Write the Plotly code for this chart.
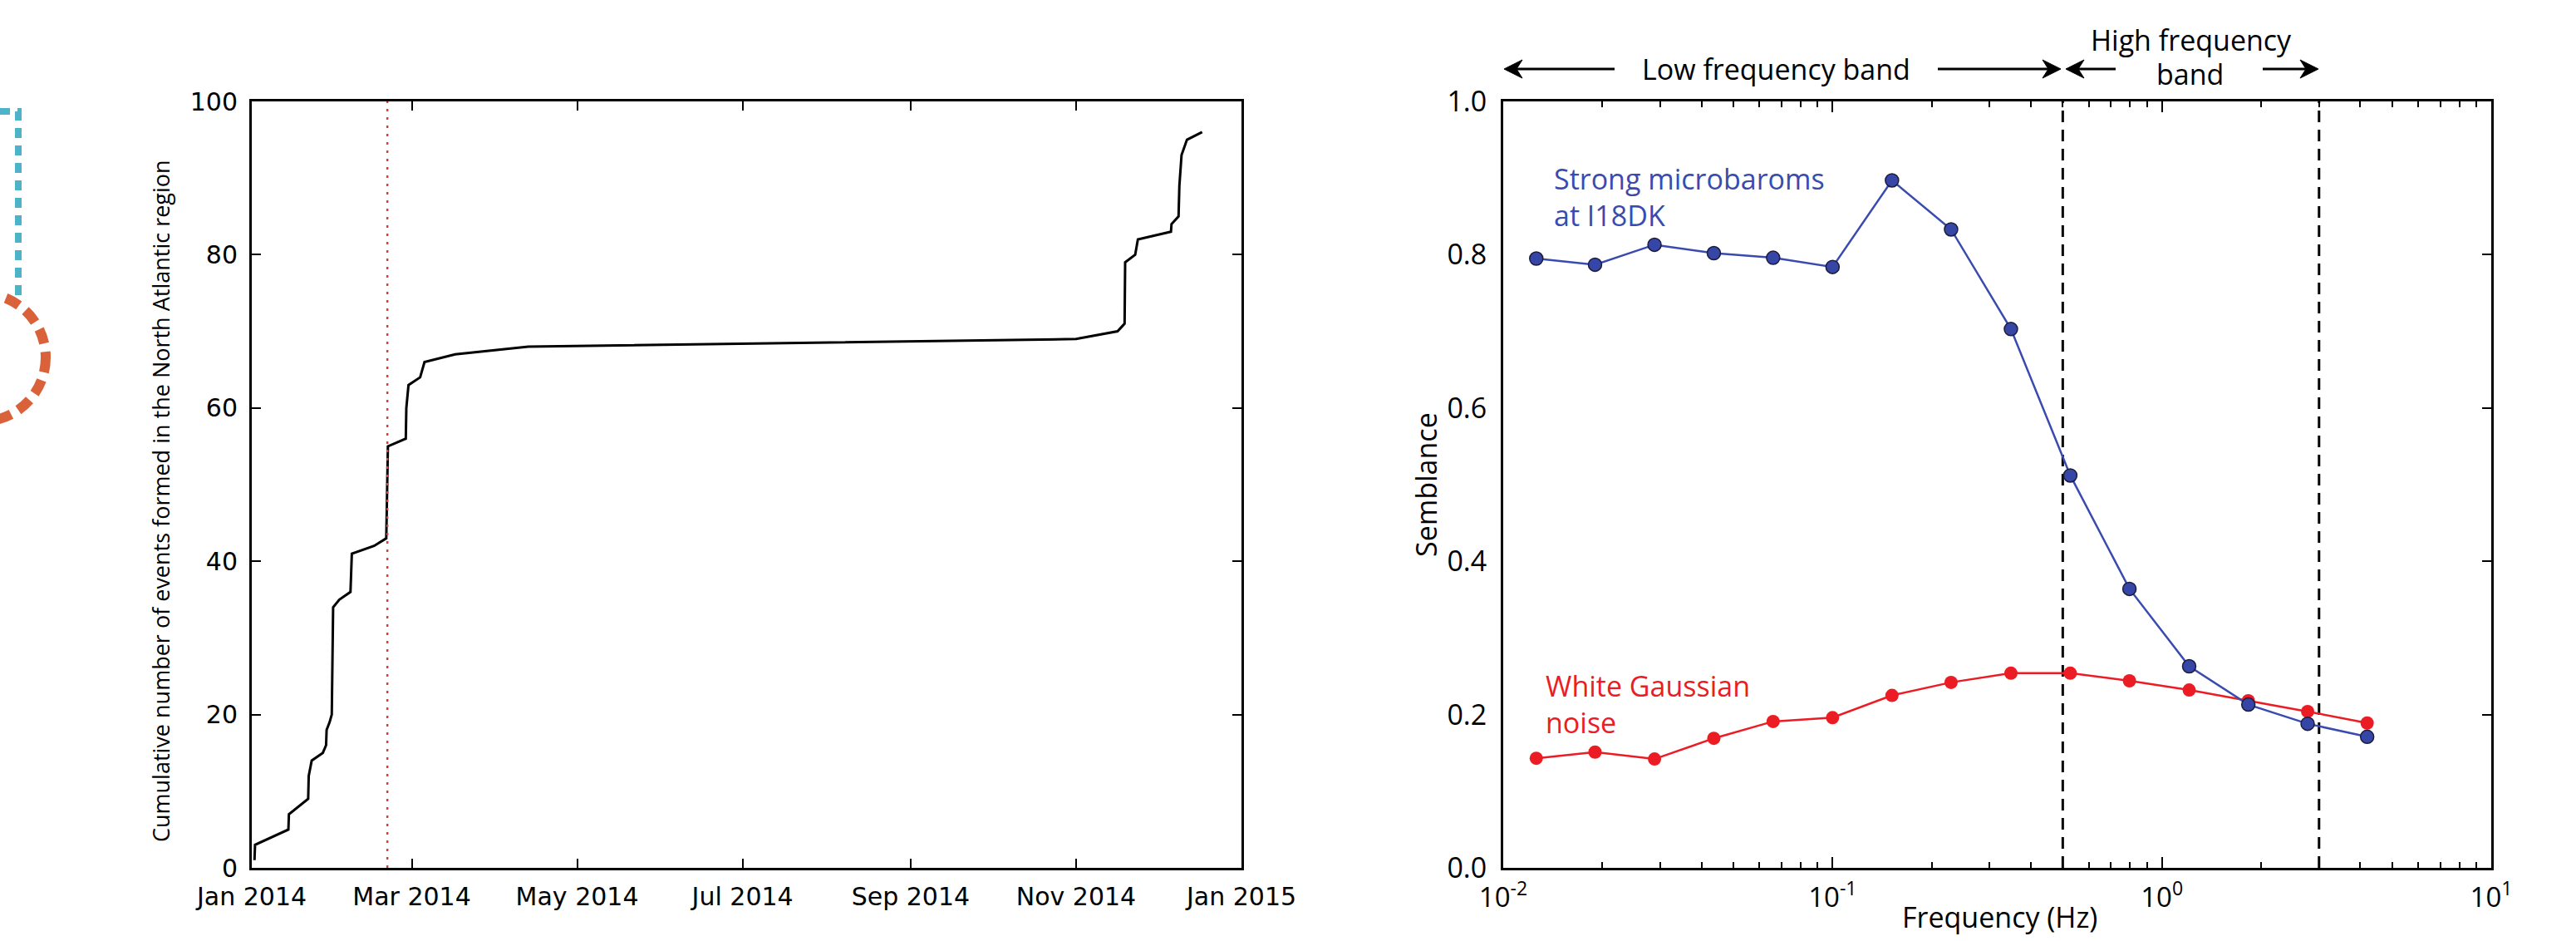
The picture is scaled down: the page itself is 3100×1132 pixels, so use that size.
import pandas as pd
import plotly.graph_objects as go

# ---------------- data ----------------
# left panel: cumulative number of events (days since 2014-01-01, cumulative count)
event_day = [1.0, 1.2, 13.5, 13.7, 20.8, 21.0, 22.1, 26.2, 27.4, 27.6,
             28.7, 29.5, 30.0, 32.3, 36.4, 36.9, 45.1, 49.6, 50.2, 56.8,
             57.0, 57.8, 62.1, 63.7, 75.0, 102.0, 304.0, 319.3, 321.9, 322.1,
             325.8, 326.8, 339.0, 339.2, 341.8, 342.1, 342.9, 344.9, 350.5]
cum_count = [1, 3, 5, 7, 9, 12, 14, 15, 16, 18,
             19, 20, 34, 35, 36, 41, 42, 43, 55, 56,
             60, 63, 64, 66, 67, 68, 69, 70, 71, 79,
             80, 82, 83, 84, 85, 89, 93, 95, 96]
marker_date = "2014-02-20"
start_date = "2014-01-01"

# right panel: semblance vs frequency
freq_hz = [0.0126, 0.019, 0.0288, 0.0436, 0.066, 0.1, 0.1515, 0.229, 0.348,
           0.527, 0.797, 1.21, 1.83, 2.77, 4.2]
semb_microbaroms = [0.795, 0.787, 0.813, 0.802, 0.796, 0.784, 0.897, 0.833, 0.703,
                    0.512, 0.364, 0.263, 0.213, 0.188, 0.171]
semb_noise = [0.143, 0.151, 0.142, 0.169, 0.191, 0.196, 0.225, 0.242, 0.254,
              0.254, 0.244, 0.232, 0.218, 0.204, 0.189]
band_edges_hz = [0.5, 3.0]

x_tickvals = [0.01, 0.1, 1, 10]
x_ticktext = ["10<sup>-2</sup>", "10<sup>-1</sup>", "10<sup>0</sup>", "10<sup>1</sup>"]

# ---------------- geometry helpers ----------------
W, H = 3100, 1132
def px(x):
    return x / W
def py(y):
    return 1 - y / H

dates = pd.Timestamp(start_date) + pd.to_timedelta(event_day, unit="D")

BLUE = "#3a4bb0"
RED = "#ec1c24"
MYR = "Open Sans"
DJV = "DejaVu Sans"

fig = go.Figure()

# left panel
fig.add_trace(go.Scatter(x=dates, y=cum_count, mode="lines",
                         line=dict(color="black", width=3),
                         xaxis="x", yaxis="y", showlegend=False))
fig.add_trace(go.Scatter(x=[marker_date, marker_date], y=[0, 100], mode="lines",
                         line=dict(color="#e33b3b", width=2.5, dash="3px,7px"),
                         xaxis="x", yaxis="y", showlegend=False))

# right panel
for edge in band_edges_hz:
    fig.add_trace(go.Scatter(x=[edge, edge], y=[0, 1], mode="lines",
                             line=dict(color="black", width=3, dash="14px,9px"),
                             xaxis="x2", yaxis="y2", showlegend=False))
fig.add_trace(go.Scatter(x=freq_hz, y=semb_noise, mode="lines+markers",
                         line=dict(color=RED, width=2.5),
                         marker=dict(color=RED, size=16, line=dict(color=RED, width=0)),
                         xaxis="x2", yaxis="y2", showlegend=False))
fig.add_trace(go.Scatter(x=freq_hz, y=semb_microbaroms, mode="lines+markers",
                         line=dict(color=BLUE, width=2.5),
                         marker=dict(color="#3646a6", size=16,
                                     line=dict(color="#1b1b3a", width=1.5)),
                         xaxis="x2", yaxis="y2", showlegend=False))
# dummy trace to activate the right-side tick axis
fig.add_trace(go.Scatter(x=[None], y=[None], xaxis="x2", yaxis="y3",
                         showlegend=False, hoverinfo="skip"))

ydom = [py(1044), py(122)]
common = dict(showline=True, linecolor="black", linewidth=3, showgrid=False,
              zeroline=False, ticks="inside", tickcolor="black", automargin=False)

minor_vals = [k * 10.0 ** e for e in (-2, -1, 0) for k in range(2, 10)]

fig.update_layout(
    width=W, height=H,
    margin=dict(l=0, r=0, t=0, b=0, pad=0, autoexpand=False),
    paper_bgcolor="white", plot_bgcolor="white",
    xaxis=dict(domain=[px(303), px(1494)], anchor="y",
               range=["2014-01-01", "2015-01-01"], type="date",
               tick0="2014-01-01", dtick="M2", tickformat="%b %Y",
               ticklen=11, tickwidth=2, mirror="ticks", ticklabelstandoff=6,
               tickfont=dict(family=DJV, size=30, color="black"), **common),
    yaxis=dict(domain=ydom, anchor="x", range=[0, 100], dtick=20,
               ticklen=11, tickwidth=2, mirror="ticks", ticklabelstandoff=8,
               tickfont=dict(family=DJV, size=30, color="black"), **common),
    xaxis2=dict(domain=[px(1809), px(2998)], anchor="y2", type="log",
                range=[-2, 1], tickvals=x_tickvals, ticktext=x_ticktext,
                ticklen=13, tickwidth=2, mirror="ticks", ticklabelstandoff=4,
                minor=dict(ticks="inside", ticklen=7, tickwidth=1.5,
                           tickcolor="black", tickvals=minor_vals),
                tickfont=dict(family=MYR, size=33, color="black"), **common),
    yaxis2=dict(domain=ydom, anchor="x2", range=[0, 1], dtick=0.2,
                tickformat=".1f", showline=True, linecolor="black", linewidth=3,
                mirror=True, showgrid=False, zeroline=False, ticks="",
                ticklabelstandoff=10, automargin=False,
                tickfont=dict(family=MYR, size=34, color="black")),
    yaxis3=dict(overlaying="y2", anchor="x2", side="right", range=[0, 1],
                dtick=0.2, ticks="inside", ticklen=11, tickwidth=2,
                tickcolor="black", showticklabels=False, showline=False,
                showgrid=False, zeroline=False, automargin=False),
)

ann = []
def text(x, y, s, size=33, color="black", family=MYR, xanchor="center",
         angle=0, align="center"):
    ann.append(dict(x=px(x), y=py(y), xref="paper", yref="paper", text=s,
                    showarrow=False, xanchor=xanchor, yanchor="middle",
                    textangle=angle, align=align,
                    font=dict(family=family, size=size, color=color)))

# axis titles
text(193, 603, "Cumulative number of events formed in the North Atlantic region",
     size=27, angle=-90)
text(1716, 583, "Semblance", size=34, angle=-90)
text(2406, 1103, "Frequency (Hz)", size=34)

# band labels
text(2137, 83, "Low frequency band", size=34)
text(2637, 48, "High frequency", size=34)
text(2635, 89, "band", size=34)

# series labels
text(1868, 237, "Strong microbaroms<br>at I18DK", size=34, color=BLUE,
     xanchor="left", align="left")
text(1858, 847, "White Gaussian<br>noise", size=34, color=RED,
     xanchor="left", align="left")

fig.update_layout(annotations=ann)

# band arrows drawn as shapes (shaft + filled head)
def arrow(x_tail, x_head, y):
    d = 1 if x_head > x_tail else -1
    hl, hw, notch = 22, 11, 7
    base = x_head - d * hl
    fig.add_shape(type="line", xref="paper", yref="paper",
                  x0=px(x_tail), x1=px(x_head - d * 8), y0=py(y), y1=py(y),
                  line=dict(color="black", width=3))
    path = (f"M {px(x_head)},{py(y)} L {px(base)},{py(y - hw)} "
            f"L {px(base + d * notch)},{py(y)} L {px(base)},{py(y + hw)} Z")
    fig.add_shape(type="path", xref="paper", yref="paper", path=path,
                  fillcolor="black", line=dict(color="black", width=1))

arrow(1943, 1810, 83)
arrow(2332, 2480, 83)
arrow(2546, 2486, 83)
arrow(2723, 2790, 83)

# decorative fragments at left edge
fig.add_shape(type="path", xref="paper", yref="paper",
              path=f"M {px(0)},{py(134)} L {px(22)},{py(134)} L {px(22)},{py(357)}",
              line=dict(color="#4fb3c8", width=8, dash="12px,9px"))
fig.add_shape(type="circle", xref="paper", yref="paper",
              x0=px(-99), x1=px(55), y0=py(507), y1=py(353),
              line=dict(color="#d9623b", width=12, dash="18px,10px"))

fig.write_html("out.html")
